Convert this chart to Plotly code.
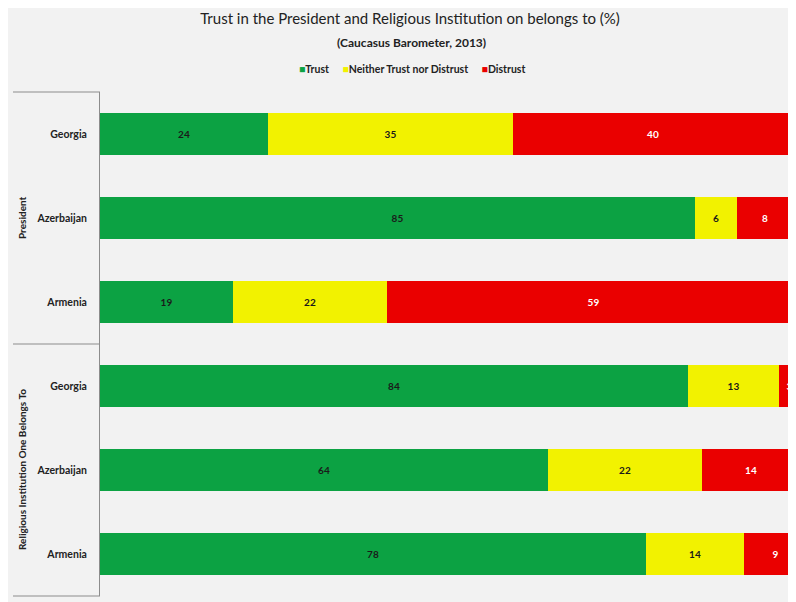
import plotly.graph_objects as go

groups = ["President", "President", "President",
          "Religious Institution One Belongs To", "Religious Institution One Belongs To", "Religious Institution One Belongs To"]
countries = ["Georgia", "Azerbaijan", "Armenia", "Georgia", "Azerbaijan", "Armenia"]
trust = [24, 85, 19, 84, 64, 78]
neither = [35, 6, 22, 13, 22, 14]
distrust = [40, 8, 59, 3, 14, 9]

series_names = ["Trust", "Neither Trust nor Distrust", "Distrust"]
colors = ["#0ca243", "#f2f200", "#ea0000"]
text_colors = ["#1a1a1a", "#1a1a1a", "#ffffff"]

ids = [f"{g}|{c}" for g, c in zip(groups, countries)]

FONT = "Lato"
W, H = 788, 594
L, R, T, B = 92, 0, 84, 6
PW, PH = W - L - R, H - T - B

fig = go.Figure()
for name, vals, col, tc in zip(series_names, [trust, neither, distrust], colors, text_colors):
    fig.add_trace(go.Bar(
        y=ids, x=vals, name=name, orientation="h",
        marker=dict(color=col, line=dict(width=0)),
        text=vals, texttemplate="%{text}", textposition="inside",
        insidetextanchor="middle",
        textfont=dict(family=FONT, size=10, color=tc, weight="bold"),
        constraintext="none", showlegend=False,
    ))

fig.update_layout(
    width=W, height=H,
    barmode="stack", bargap=0.49,
    paper_bgcolor="#f2f2f2", plot_bgcolor="#f2f2f2",
    margin=dict(l=L, r=R, t=T, b=B),
    font=dict(family=FONT, color="#222222"),
    title=dict(
        text="Trust in the President and Religious Institution on belongs to (%)",
        x=402 / W, xref="container", xanchor="center",
        y=1 - 11 / H, yref="container", yanchor="middle",
        font=dict(family=FONT, size=15, color="#222222"),
    ),
    xaxis=dict(range=[0, PW / 7.0], visible=False, fixedrange=True),
    yaxis=dict(
        type="category", categoryorder="array", categoryarray=ids,
        autorange="reversed", tickvals=ids, ticktext=countries,
        showline=True, linecolor="#8c8c8c", linewidth=1,
        ticks="", ticklabelstandoff=10,
        tickfont=dict(family=FONT, size=10.5, color="#222222", weight="bold"),
        showgrid=False, zeroline=False,
    ),
)

def px_to_paper_y(fy):
    return 1 + (T - fy) / PH

def px_to_paper_x(fx):
    return (fx - L) / PW

# subtitle
fig.add_annotation(text="<b>(Caucasus Barometer, 2013)</b>", xref="paper", yref="paper",
                   x=px_to_paper_x(403), y=px_to_paper_y(35), xanchor="center", yanchor="middle",
                   showarrow=False, font=dict(family=FONT, size=12, color="#222222"))

# legend (colored squares + labels)
sp = "&nbsp;" * 5
legend_html = sp.join(
    f"<span style='color:{c}'>■</span><b>{n}</b>" for n, c in zip(series_names, colors)
)
fig.add_annotation(text=legend_html, xref="paper", yref="paper",
                   x=px_to_paper_x(403.5), y=px_to_paper_y(61), xanchor="center", yanchor="middle",
                   showarrow=False, font=dict(family=FONT, size=10.5, color="#222222"))

# group separators
for yv in [1.0, 0.5, 0.0]:
    fig.add_shape(type="line", xref="paper", yref="paper",
                  x0=-87 / PW, x1=0, y0=yv, y1=yv,
                  line=dict(color="#8c8c8c", width=1.2))
# group labels
for label, yc in [("President", 0.75), ("Religious Institution One Belongs To", 0.25)]:
    fig.add_annotation(text=f"<b>{label}</b>", xref="paper", yref="paper",
                       x=px_to_paper_x(14), y=yc, textangle=-90, showarrow=False,
                       xanchor="center", yanchor="middle",
                       font=dict(family=FONT, size=10, color="#222222"))

fig.write_html("out.html")
